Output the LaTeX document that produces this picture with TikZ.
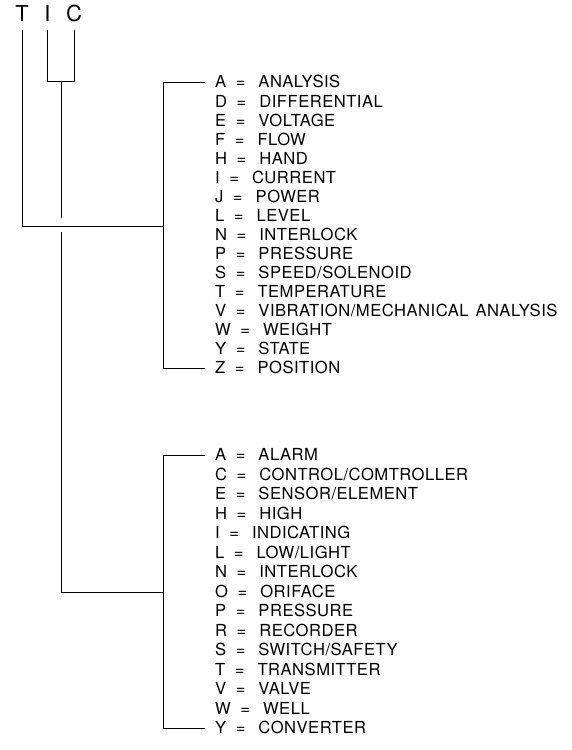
\documentclass[tikz,border=0pt]{standalone}
\usepackage{fontspec}
\setmainfont{TeX Gyre Heros}
\newfontfamily\cadfont[LetterSpace=3]{TeX Gyre Heros}
\begin{document}
\begin{tikzpicture}[x=1pt,y=-1pt,
  item/.style={anchor=west,inner xsep=10pt,inner ysep=0pt,text height=11.9pt,text depth=0pt,
    font=\cadfont\fontsize{16.6}{18}\selectfont},
  head/.style={inner sep=0pt,text height=16pt,text depth=0pt,font=\fontsize{22}{24}\selectfont},
  wire/.style={line width=0.9pt,black}]
\useasboundingbox (0,0) rectangle (571,750);
\newcommand\kvrow[4]{\node[item] (#1) at (205,#2) {#3\hspace{9.5pt}=\hspace{13pt}#4};}
% header letters
\node[head] (T) at (22,13) {T};
\node[head] (I) at (47.5,13) {I};
\node[head] (C) at (74,13) {C};
% junction coordinates
\coordinate (Tt) at (22,30);
\coordinate (Tb) at (22,226);
\coordinate (It) at (47.5,30);
\coordinate (Ib) at (47.5,81);
\coordinate (Ct) at (74,30);
\coordinate (Cb) at (74,81);
\coordinate (ICm) at (61,81);
\coordinate (gapA) at (61,218);
\coordinate (gapB) at (61,232);
\coordinate (ICb) at (61,592);
\coordinate (Ar) at (163,226);
\coordinate (At) at (163,82);
\coordinate (Ab) at (163,368);
\coordinate (Br) at (163,592);
\coordinate (Bt) at (163,455);
\coordinate (Bb) at (163,728);
% first list
\kvrow{a1}{82}{A}{ANALYSIS}
\kvrow{a2}{101.07}{D}{DIFFERENTIAL}
\kvrow{a3}{120.13}{E}{VOLTAGE}
\kvrow{a4}{139.2}{F}{FLOW}
\kvrow{a5}{158.27}{H}{HAND}
\kvrow{a6}{177.33}{I}{CURRENT}
\kvrow{a7}{196.4}{J}{POWER}
\kvrow{a8}{215.47}{L}{LEVEL}
\kvrow{a9}{234.53}{N}{INTERLOCK}
\kvrow{a10}{253.6}{P}{PRESSURE}
\kvrow{a11}{272.67}{S}{SPEED/SOLENOID}
\kvrow{a12}{291.73}{T}{TEMPERATURE}
\kvrow{a13}{310.8}{V}{VIBRATION/MECHANICAL\hspace{7pt}ANALYSIS}
\kvrow{a14}{329.87}{W}{WEIGHT}
\kvrow{a15}{348.93}{Y}{STATE}
\kvrow{a16}{368}{Z}{POSITION}
% second list
\kvrow{b1}{455}{A}{ALARM}
\kvrow{b2}{474.5}{C}{CONTROL/COMTROLLER}
\kvrow{b3}{494}{E}{SENSOR/ELEMENT}
\kvrow{b4}{513.5}{H}{HIGH}
\kvrow{b5}{533}{I}{INDICATING}
\kvrow{b6}{552.5}{L}{LOW/LIGHT}
\kvrow{b7}{572}{N}{INTERLOCK}
\kvrow{b8}{591.5}{O}{ORIFACE}
\kvrow{b9}{611}{P}{PRESSURE}
\kvrow{b10}{630.5}{R}{RECORDER}
\kvrow{b11}{650}{S}{SWITCH/SAFETY}
\kvrow{b12}{669.5}{T}{TRANSMITTER}
\kvrow{b13}{689}{V}{VALVE}
\kvrow{b14}{708.5}{W}{WELL}
\kvrow{b15}{728}{Y}{CONVERTER}
% wiring
\draw[wire] (Tt) -- (Tb) -- (Ar);
\draw[wire] (It) -- (Ib) -- (Cb) -- (Ct);
\draw[wire] (ICm) -- (gapA);
\draw[wire] (gapB) -- (ICb) -- (Br);
\draw[wire] (a1.west) -- (At) -- (Ab) -- (a16.west);
\draw[wire] (b1.west) -- (Bt) -- (Bb) -- (b15.west);
\end{tikzpicture}
\end{document}
